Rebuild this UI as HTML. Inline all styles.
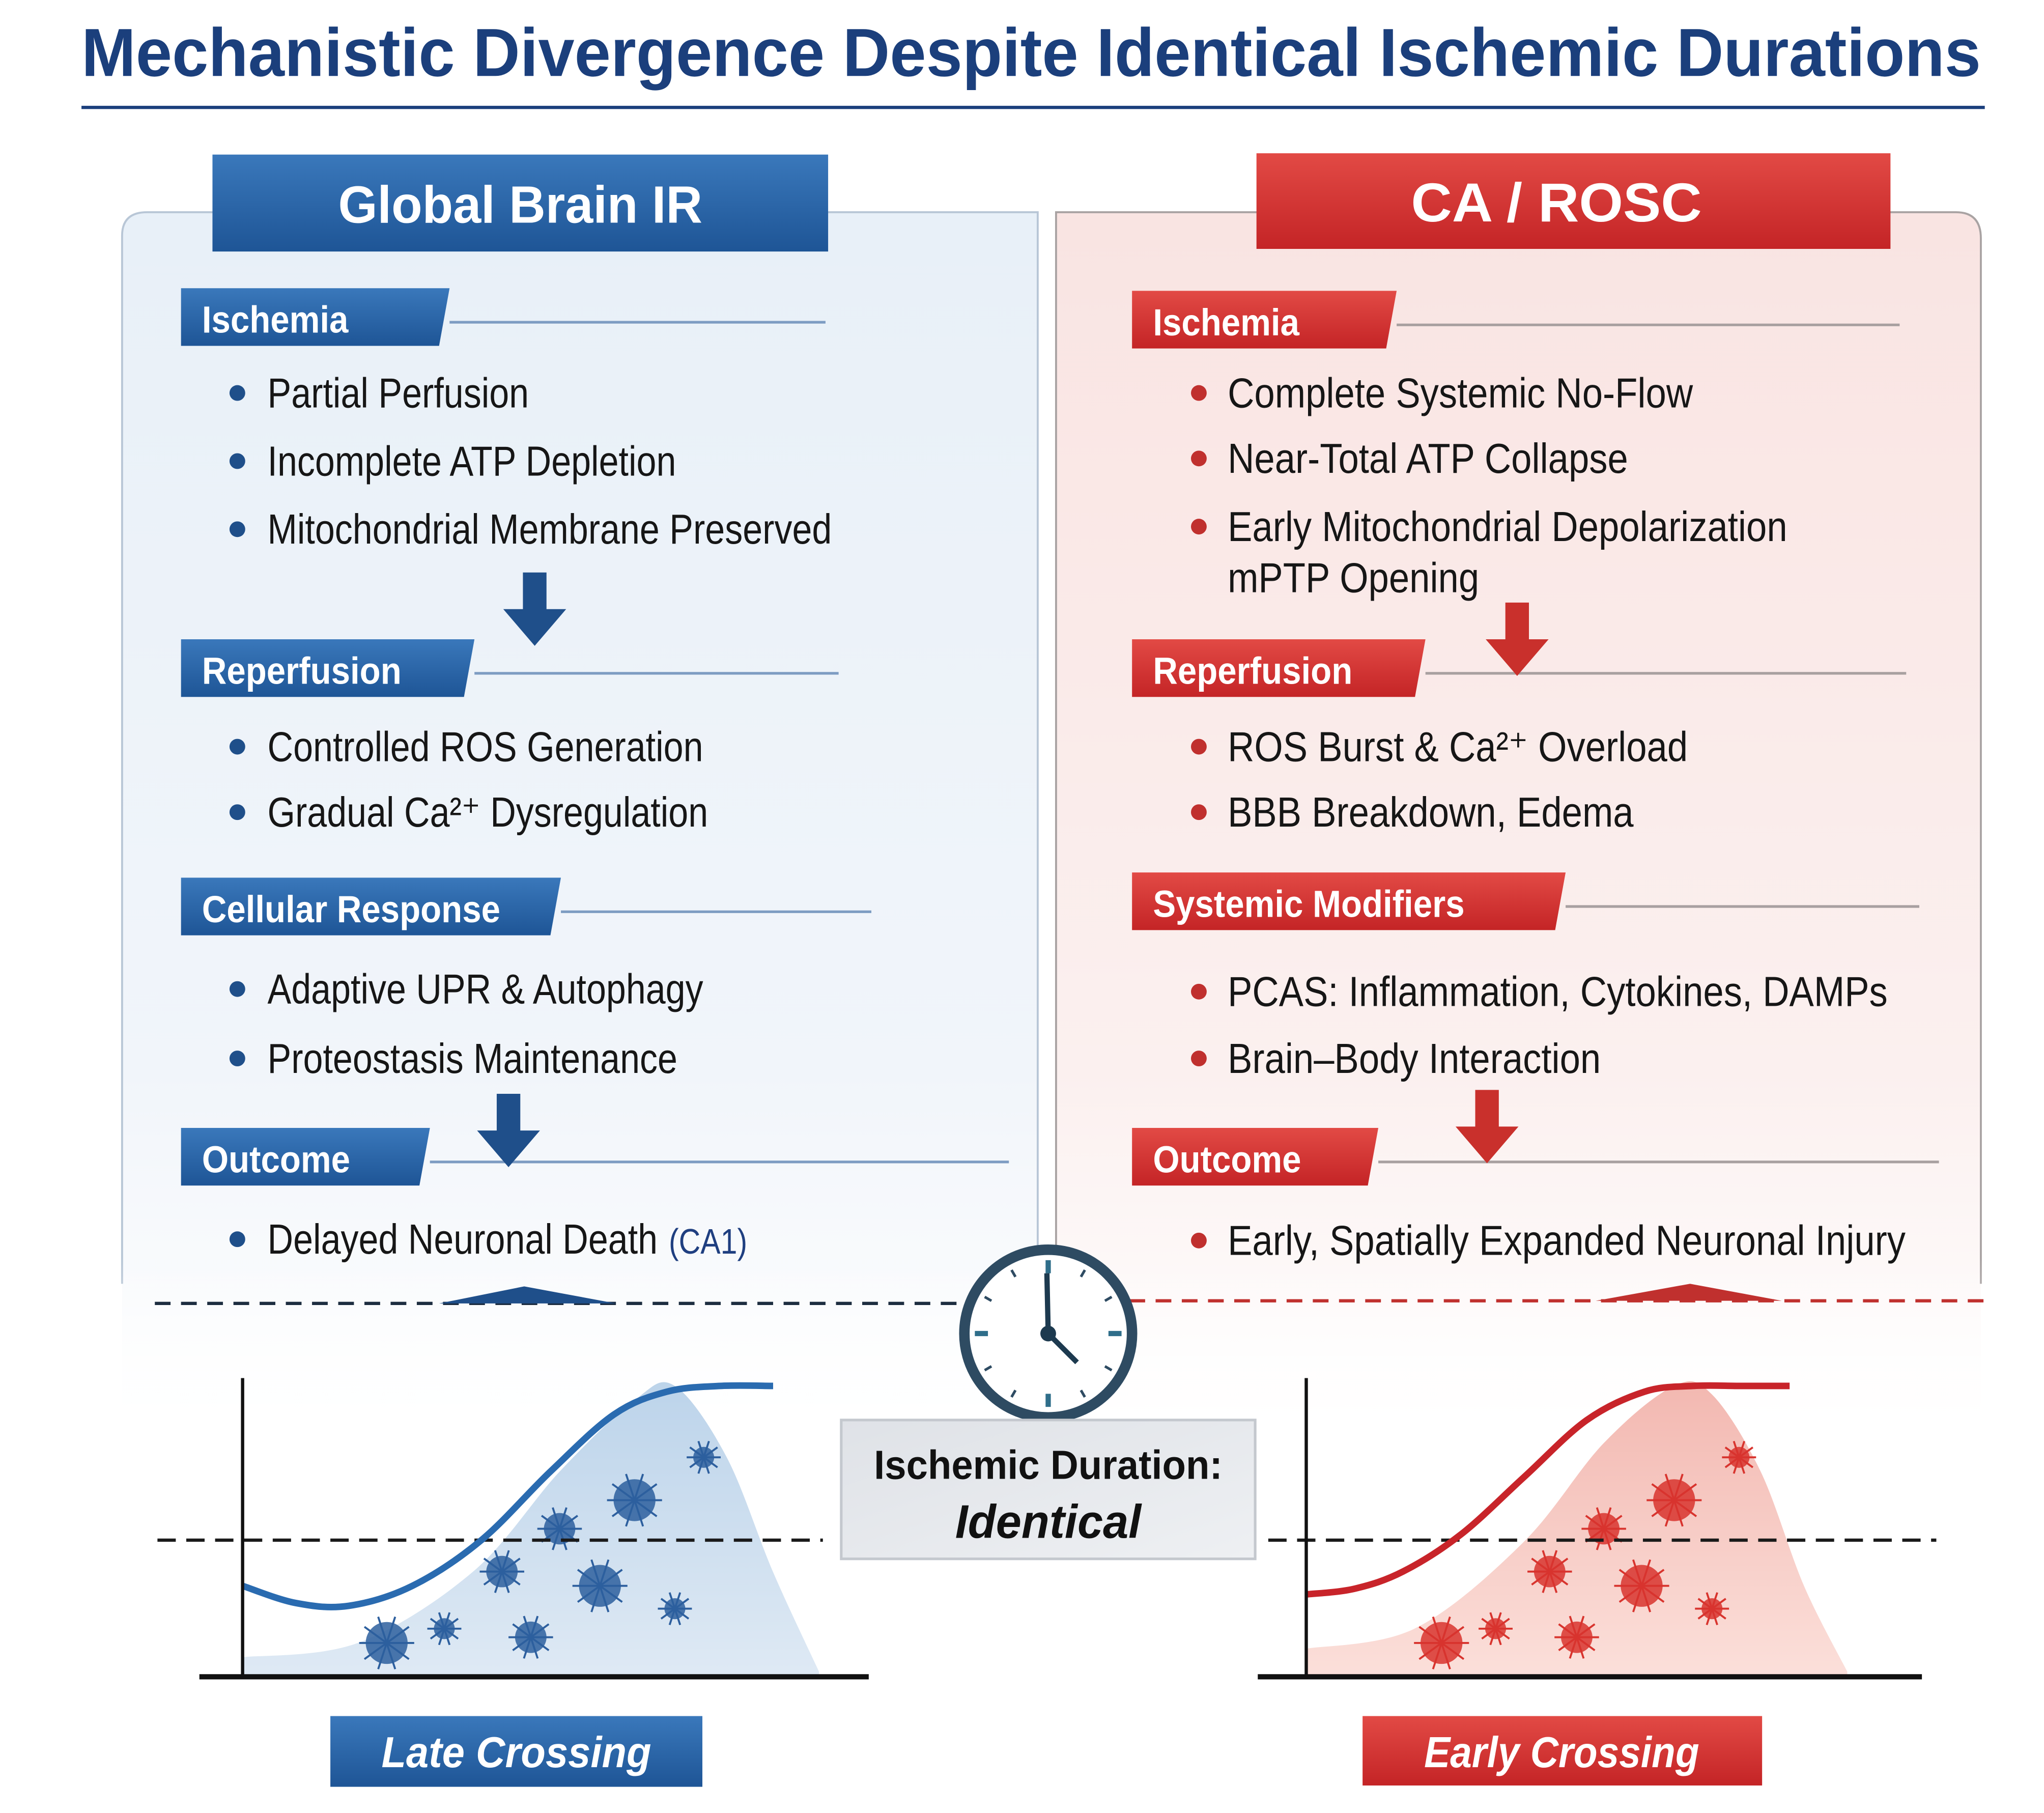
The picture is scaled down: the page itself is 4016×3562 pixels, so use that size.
<!DOCTYPE html>
<html><head><meta charset="utf-8">
<style>
html,body{margin:0;padding:0;background:#fff;}
svg{display:block;}
text{font-family:"Liberation Sans","DejaVu Sans",sans-serif;}
</style></head>
<body>
<svg id="fig" width="4016" height="3562" viewBox="0 0 1560 1384" xmlns="http://www.w3.org/2000/svg">
<defs>
<linearGradient id="gl" x1="0" y1="0" x2="0" y2="1"><stop offset="0" stop-color="#e8f0f8"/><stop offset="0.7" stop-color="#f1f5fa"/><stop offset="1" stop-color="#ffffff"/></linearGradient>
<linearGradient id="gr" x1="0" y1="0" x2="0" y2="1"><stop offset="0" stop-color="#f9e4e2"/><stop offset="0.7" stop-color="#fbf0ef"/><stop offset="1" stop-color="#ffffff"/></linearGradient>
<linearGradient id="bb" x1="0" y1="0" x2="0" y2="1"><stop offset="0" stop-color="#3a78bb"/><stop offset="1" stop-color="#1e5596"/></linearGradient>
<linearGradient id="rb" x1="0" y1="0" x2="0" y2="1"><stop offset="0" stop-color="#e24a45"/><stop offset="1" stop-color="#c42426"/></linearGradient>
<linearGradient id="gb" x1="0" y1="0" x2="1" y2="1"><stop offset="0" stop-color="#dfe2e7"/><stop offset="1" stop-color="#eef0f3"/></linearGradient>
<linearGradient id="fb" x1="0" y1="0" x2="0" y2="1"><stop offset="0" stop-color="#b5cfe8"/><stop offset="1" stop-color="#dbe7f3"/></linearGradient>
<linearGradient id="fr" x1="0" y1="0" x2="0" y2="1"><stop offset="0" stop-color="#f1b0a8"/><stop offset="1" stop-color="#fbdcd6"/></linearGradient>
<linearGradient id="bgfade" x1="0" y1="0" x2="0" y2="1"><stop offset="0" stop-color="#fff" stop-opacity="0"/><stop offset="1" stop-color="#fff" stop-opacity="1"/></linearGradient>
</defs>

<text x="787" y="58" text-anchor="middle" font-size="52" font-weight="bold" fill="#1b3f7c" textLength="1450" lengthAdjust="spacingAndGlyphs">Mechanistic Divergence Despite Identical Ischemic Durations</text>
<line x1="62" y1="82" x2="1515" y2="82" stroke="#1b3f7c" stroke-width="2.5"/>

<path d="M93 1100 V180 Q93 162 112 162 H792 V1100 Z" fill="url(#gl)"/>
<path d="M93 980 V180 Q93 162 112 162 H792 V980" fill="none" stroke="#b8c6d6" stroke-width="1.5"/>
<path d="M806 1100 V162 H1493 Q1512 162 1512 182 V1100 Z" fill="url(#gr)"/>
<path d="M806 980 V162 H1493 Q1512 162 1512 182 V980" fill="none" stroke="#a9a3a3" stroke-width="1.5"/>
<rect x="80" y="960" width="1450" height="150" fill="url(#bgfade)"/>

<g>
<rect x="162" y="118" width="470" height="74" fill="url(#bb)"/>
<text x="397" y="170" text-anchor="middle" font-size="40" font-weight="bold" fill="#fff" textLength="278" lengthAdjust="spacingAndGlyphs">Global Brain IR</text></g>
<g>
<rect x="959" y="117" width="484" height="73" fill="url(#rb)"/>
<text x="1188" y="169" text-anchor="middle" font-size="42" font-weight="bold" fill="#fff" textLength="222" lengthAdjust="spacingAndGlyphs">CA / ROSC</text></g>

<g id="sections"></g>

<g>
<line x1="118" y1="995" x2="735" y2="995" stroke="#1d2d40" stroke-width="2.5" stroke-dasharray="12,8"/>
<path d="M335 995 L400 982 L470 995 Z" fill="#1f4f8a"/></g>
<g>
<line x1="862" y1="993" x2="1515" y2="993" stroke="#c0302e" stroke-width="2.5" stroke-dasharray="12,8"/>
<path d="M1218 993 L1290 980 L1360 993 Z" fill="#c0302e"/></g>

<g id="charts"></g>

<g>
<circle cx="800" cy="1018" r="64" fill="#fff" stroke="#2e4b62" stroke-width="8"/>
<g id="ticks"></g>
<line x1="800" y1="1018" x2="799" y2="972" stroke="#1d3a4f" stroke-width="4"/>
<line x1="800" y1="1018" x2="822" y2="1040" stroke="#1d3a4f" stroke-width="4"/>
<circle cx="800" cy="1018" r="6" fill="#1d3a4f"/></g>

<g>
<rect x="642" y="1084" width="316" height="106" fill="url(#gb)" stroke="#c4c8ce" stroke-width="2"/>
<text x="800" y="1129" text-anchor="middle" font-size="31" font-weight="bold" fill="#111" textLength="266" lengthAdjust="spacingAndGlyphs">Ischemic Duration:</text>
<text x="800" y="1174" text-anchor="middle" font-size="36" font-weight="bold" font-style="italic" fill="#111" textLength="142" lengthAdjust="spacingAndGlyphs">Identical</text></g>

<g>
<rect x="252" y="1310" width="284" height="54" fill="url(#bb)"/>
<text x="394" y="1349" text-anchor="middle" font-size="33" font-weight="bold" font-style="italic" fill="#fff" textLength="206" lengthAdjust="spacingAndGlyphs">Late Crossing</text></g>
<g>
<rect x="1040" y="1310" width="305" height="53" fill="url(#rb)"/>
<text x="1192" y="1349" text-anchor="middle" font-size="33" font-weight="bold" font-style="italic" fill="#fff" textLength="210" lengthAdjust="spacingAndGlyphs">Early Crossing</text></g>
</svg>
<script>
const NS="http://www.w3.org/2000/svg";
const svg=document.getElementById('fig');
function mk(tag,attrs,parent){const e=document.createElementNS(NS,tag);for(const k in attrs)e.setAttribute(k,attrs[k]);(parent||svg).appendChild(e);return e;}

const secLabels=["Ischemia","Reperfusion","Cellular Response","Outcome","Ischemia","Reperfusion","Systemic Modifiers","Outcome"];
const secSides=["L","L","L","L","R","R","R","R"];
const secTop=[220,488,670,861,222,488,666,861];
const secRight=[343,362,428,328,1066,1088,1195,1052];
const secLineEnd=[630,640,665,770,1450,1455,1465,1480];
const bullets=[
 ["L",300,"Partial Perfusion",true],["L",352,"Incomplete ATP Depletion",true],["L",404,"Mitochondrial Membrane Preserved",true],
 ["L",570,"Controlled ROS Generation",true],["L",620,"Gradual Ca²⁺ Dysregulation",true],
 ["L",755,"Adaptive UPR & Autophagy",true],["L",808,"Proteostasis Maintenance",true],
 ["L",946,"Delayed Neuronal Death",true],
 ["R",300,"Complete Systemic No-Flow",true],["R",350,"Near-Total ATP Collapse",true],["R",402,"Early Mitochondrial Depolarization",true],["R",441,"mPTP Opening",false],
 ["R",570,"ROS Burst & Ca²⁺ Overload",true],["R",620,"BBB Breakdown, Edema",true],
 ["R",757,"PCAS: Inflammation, Cytokines, DAMPs",true],["R",808,"Brain–Body Interaction",true],
 ["R",947,"Early, Spatially Expanded Neuronal Injury",true]];
const arrows=[["L",408,437],["L",388,835],["R",1158,460],["R",1135,832]];
const sec=document.getElementById('sections');
secLabels.forEach((lab,i)=>{
 const L=secSides[i]==="L", x0=L?138:864, col=L?"url(#bb)":"url(#rb)", h=44;
 const g=mk('g',{},sec);
 
 
 const y=secTop[i], r=secRight[i];
 mk('line',{x1:r,y1:y+26,x2:secLineEnd[i],y2:y+26,stroke:L?"#7d9cc2":"#a8a0a0","stroke-width":2},g);
 mk('path',{d:`M${x0} ${y} H${r} L${r-8} ${y+h} H${x0} Z`,fill:col},g);
 const t=mk('text',{transform:`translate(${x0+16},${y+34}) scale(0.9,1)`,"font-size":29,"font-weight":"bold",fill:"#fff"},g);t.textContent=lab;
});
bullets.forEach(b=>{
 const L=b[0]==="L", g=mk('g',{},sec);
 
 
 const bx=L?181:915, tx=L?204:937;
 if(b[3]) mk('circle',{cx:bx,cy:b[1],r:6,fill:L?"#1f4f8a":"#c0302e"},g);
 const t=mk('text',{transform:`translate(${tx},${b[1]+11}) scale(${L?0.85:0.88},1)`,"font-size":32,fill:"#161616"},g);t.textContent=b[2];
 if(b[2]==="Delayed Neuronal Death"){const s=mk('tspan',{"font-size":27,fill:"#1f3f80",dx:10},t);s.textContent="(CA1)";}
});
arrows.forEach(a=>{
 const L=a[0]==="L",x=a[1],y=a[2];
 const p=mk('path',{d:`M${x-9} ${y} H${x+9} V${y+28} H${x+24} L${x} ${y+56} L${x-24} ${y+28} H${x-9} Z`,fill:L?"#1f4f8a":"#c9302c"},sec);
 
 
});

const tg=document.getElementById('ticks');
for(let k=0;k<12;k++){const a=k*Math.PI/6,r1=k%3?50:46,r2=56;
 mk('line',{x1:800+Math.sin(a)*r1,y1:1018-Math.cos(a)*r1,x2:800+Math.sin(a)*r2,y2:1018-Math.cos(a)*r2,stroke:k%3?"#2e4b62":"#2f6e8a","stroke-width":k%3?2:4},tg);}

// Chart data (normalized fractions)
const curveX=[0,0.1,0.2,0.32,0.45,0.58,0.7,0.8,0.9,1.0];
const lateCurveY=[0.3,0.24,0.23,0.3,0.46,0.7,0.9,0.98,1.0,1.0];
const earlyCurveY=[0.27,0.29,0.35,0.48,0.68,0.88,0.98,1.0,1.0,1.0];
const burdenX=[0,0.2,0.4,0.55,0.68,0.75,0.84,0.92,1.0];
const lateBurden=[0.05,0.1,0.35,0.7,0.95,1.0,0.75,0.35,0.0];
const earlyBurden=[0.08,0.15,0.45,0.8,1.0,0.97,0.7,0.3,0.0];
const thresholdFrac=0.46;

function smooth(pts){let d=`M${pts[0][0]} ${pts[0][1]}`;
 for(let i=0;i<pts.length-1;i++){const p0=pts[Math.max(0,i-1)],p1=pts[i],p2=pts[i+1],p3=pts[Math.min(pts.length-1,i+2)];
  d+=` C${p1[0]+(p2[0]-p0[0])/6} ${p1[1]+(p2[1]-p0[1])/6} ${p2[0]-(p3[0]-p1[0])/6} ${p2[1]-(p3[1]-p1[1])/6} ${p2[0]} ${p2[1]}`;}
 return d;}

const charts=document.getElementById('charts');
function drawChart(name,ax,x0,x1,top,base,curveEnd,burdenEnd,cy,by,stroke,fill,dashX0,dashX1,virCol){
 const g=mk('g',{},charts);
 
 
 const H=base-top-10;
 const sx=(f,end)=>ax+f*(end-ax), sy=v=>base-4-v*H;
 const bp=burdenX.map((f,i)=>[sx(f,burdenEnd),sy(by[i])]);
 const a=mk('path',{d:smooth(bp)+` L${burdenEnd} ${base} L${ax} ${base} Z`,fill:fill,opacity:0.9},g);
 
 
 const vx=[0.35,0.5,0.62,0.75,0.55,0.68,0.8,0.45,0.25];
 const vy=[0.15,0.12,0.3,0.22,0.5,0.6,0.75,0.35,0.1];
 vx.forEach((f,i)=>{const cx=sx(f,burdenEnd),cyy=sy(vy[i]);const r=8+(i%3)*4;
  const v=mk('g',{},g);
  
  
  for(let k=0;k<10;k++){const an=k*Math.PI/5;mk('line',{x1:cx,y1:cyy,x2:cx+Math.cos(an)*(r+5),y2:cyy+Math.sin(an)*(r+5),stroke:virCol,"stroke-width":1.5},v);}
  mk('circle',{cx:cx,cy:cyy,r:r,fill:virCol,opacity:0.85},v);});
 const th=sy(thresholdFrac);
 const t=mk('line',{x1:dashX0,y1:th,x2:dashX1,y2:th,stroke:"#1a1a1a","stroke-width":2.5,"stroke-dasharray":"14,8"},g);
 
 
 const cp=curveX.map((f,i)=>[sx(f,curveEnd),sy(cy[i])]);
 const cu=mk('path',{d:smooth(cp),fill:"none",stroke:stroke,"stroke-width":5},g);
 
 
 const ya=mk('line',{x1:ax,y1:top,x2:ax,y2:base,stroke:"#111","stroke-width":2.5},g);
 
 
 const xa=mk('line',{x1:x0,y1:base,x2:x1,y2:base,stroke:"#111","stroke-width":4},g);
 
 
}
drawChart('late-crossing-chart',185,152,663,1052,1280,590,625,lateCurveY,lateBurden,"#2a6bb0","url(#fb)",120,628,"#2d5f9e");
drawChart('early-crossing-chart',997,960,1467,1052,1280,1366,1410,earlyCurveY,earlyBurden,"#c8242a","url(#fr)",968,1478,"#d8342e");
</script>
</body></html>
